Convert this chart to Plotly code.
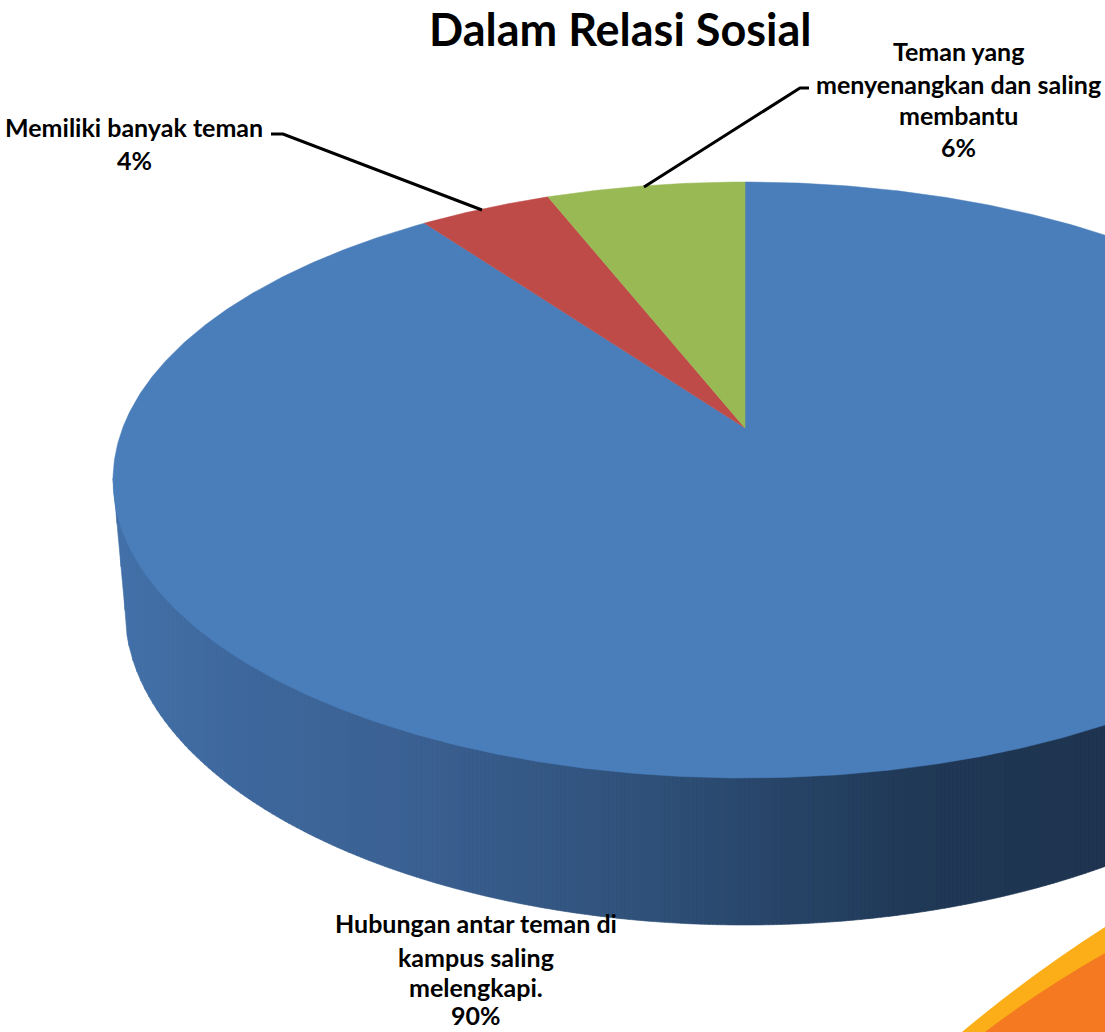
import numpy as np
import plotly.graph_objects as go

# ---- data ----
categories = ["Hubungan antar teman di kampus saling melengkapi.",
              "Memiliki banyak teman",
              "Teman yang menyenangkan dan saling membantu"]
values = [90, 4, 6]
slice_colors = ["#4A7EBB", "#BE4B48", "#98B954"]
title_text = "Dalam Relasi Sosial"

label_lines = ["Teman yang", "menyenangkan dan saling", "membantu", "6%",
               "Memiliki banyak teman", "4%",
               "Hubungan antar teman di", "kampus saling", "melengkapi.", "90%"]
label_x = [958, 958, 958, 958, 134, 134, 476, 476, 476, 476]
label_y = [51, 84, 115, 147, 127, 160, 923, 957, 987, 1015]

leader_x = [[271, 283, 482], [809, 800, 644]]
leader_y = [[134, 134, 210], [88, 88, 187]]

# ---- layout of the tilted disc (pixels) ----
W, H = 1105, 1032
TOP = dict(cx=745, cy=480, rx=632, ry=298)
BOT = dict(cx=745, cy=610, rx=620, ry=315)
APEX_Y = 428
a = (TOP["cy"] - APEX_Y) / TOP["ry"]
s = np.sqrt(1 - a * a)


def rim(phi):
    """Point on the top rim for pie angle phi (clockwise from 12 o'clock), in perspective."""
    d = 1 + a * np.cos(phi)
    X = np.sin(phi) * s / d
    Y = (np.cos(phi) + a) / d
    return TOP["cx"] + TOP["rx"] * X, TOP["cy"] - TOP["ry"] * Y


def lower_edge(x, e):
    return e["cy"] + e["ry"] * np.sqrt(np.clip(1 - ((x - e["cx"]) / e["rx"]) ** 2, 0, 1))


def wall_bottom(x):
    x = np.asarray(x, dtype=float)
    left = BOT["cx"] - BOT["rx"]
    return np.where(x < left,
                    TOP["cy"] + (x - (TOP["cx"] - TOP["rx"])) / (left - (TOP["cx"] - TOP["rx"])) * (BOT["cy"] - TOP["cy"]),
                    lower_edge(x, BOT))


fig = go.Figure()

# side wall: vertical strips shaded left to right
ramp_x = [100, 250, 400, 660, 905, 1105]
ramp_r = [68, 62, 60, 47, 33, 31]
ramp_g = [114, 104, 98, 80, 58, 52]
ramp_b = [170, 157, 148, 120, 88, 80]
edges = np.arange(113, 1109, 4.0)
for x0, x1 in zip(edges[:-1], edges[1:]):
    xx = np.linspace(x0, x1, 3)
    yt = lower_edge(xx, TOP) - 2
    yb = wall_bottom(xx)
    xm = xx.mean()
    col = "rgb(%d,%d,%d)" % (np.interp(xm, ramp_x, ramp_r),
                             np.interp(xm, ramp_x, ramp_g),
                             np.interp(xm, ramp_x, ramp_b))
    fig.add_trace(go.Scatter(x=np.r_[xx, xx[::-1], xx[0]], y=np.r_[yt, yb[::-1], yt[0]],
                             mode="lines", fill="toself", fillcolor=col,
                             line=dict(color=col, width=0.6), hoverinfo="skip", showlegend=False))

# top surface slices
cum = np.cumsum([0] + values) / sum(values) * 2 * np.pi
for i, (v, c, name) in enumerate(zip(values, slice_colors, categories)):
    ph = np.linspace(cum[i], cum[i + 1], max(8, int(v * 8)))
    x, y = rim(ph)
    fig.add_trace(go.Scatter(x=np.r_[TOP["cx"], x, TOP["cx"]], y=np.r_[APEX_Y, y, APEX_Y],
                             mode="lines", fill="toself", fillcolor=c,
                             line=dict(color=c, width=0.5), name=name, showlegend=False,
                             hoverinfo="name"))

# leader lines
for lx, ly in zip(leader_x, leader_y):
    fig.add_trace(go.Scatter(x=lx, y=ly, mode="lines", line=dict(color="#000000", width=3),
                             hoverinfo="skip", showlegend=False))

for tx, lx, ly in zip(label_lines, label_x, label_y):
    fig.add_annotation(x=lx, y=ly, xref="x", yref="y", text="<b>%s</b>" % tx, showarrow=False,
                       xanchor="center", yanchor="middle",
                       font=dict(family="Lato", size=25, color="#000000"))

fig.add_annotation(x=620, y=29, xref="x", yref="y", text="<b>%s</b>" % title_text, showarrow=False,
                   xanchor="center", yanchor="middle",
                   font=dict(family="Lato", size=45, color="#000000"))

fig.update_layout(
    width=W, height=H, margin=dict(l=0, r=0, t=0, b=0), autosize=False,
    paper_bgcolor="#FFFFFF", plot_bgcolor="#FFFFFF", showlegend=False,
    xaxis=dict(range=[0, W], visible=False, fixedrange=True),
    yaxis=dict(range=[H, 0], visible=False, fixedrange=True),
    shapes=[
        dict(type="path", xref="x", yref="y", layer="below",
             path="M 962 1032 Q 1030 975 1105 927 L 1105 1032 Z",
             fillcolor="#FBAE17", line=dict(width=0)),
        dict(type="path", xref="x", yref="y", layer="below",
             path="M 985 1032 Q 1040 990 1105 953 L 1105 1032 Z",
             fillcolor="#F47920", line=dict(width=0)),
    ],
)

fig.write_html("out.html", config=dict(displayModeBar=False),
               post_script="document.body.style.margin='0';")
